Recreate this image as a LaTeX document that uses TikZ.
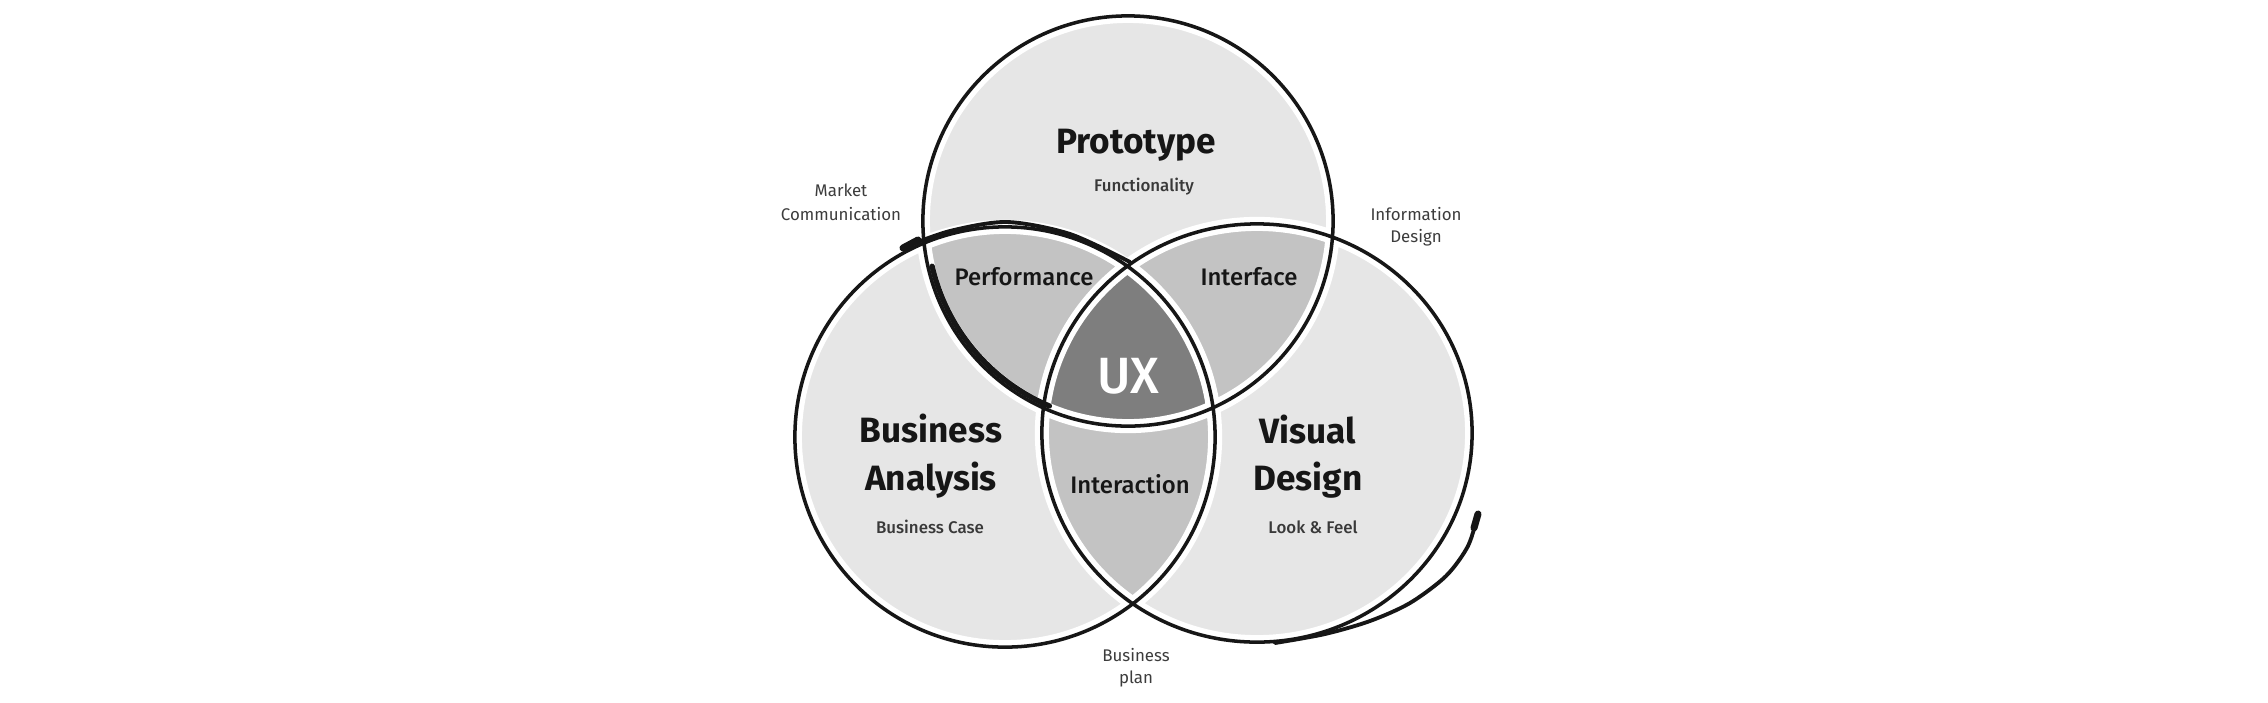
\documentclass[tikz,border=0pt]{standalone}
\usepackage{fontspec}
\setmainfont{Fira Sans}
\newfontfamily\medfont{Fira Sans Medium}
\definecolor{lite}{HTML}{E6E6E6}
\definecolor{midg}{HTML}{C3C3C3}
\definecolor{darkg}{HTML}{7E7E7E}
\definecolor{ink}{HTML}{161616}
\definecolor{soft}{HTML}{3C3C3C}
\def\Tpath{(1128,221) circle (2.05cm)}
\def\Lpath{(1005,437) circle (2.10cm)}
\def\Rpath{(1257,433) ellipse (2.15cm and 2.09cm)}
\begin{document}
\begin{tikzpicture}[x=0.01cm,y=-0.01cm,
  title/.style={anchor=base, inner sep=0pt, text=ink, font=\bfseries\fontsize{10}{12}\selectfont},
  sub/.style={anchor=base, inner sep=0pt, text=ink!85, font=\medfont\fontsize{4.8}{6}\selectfont},
  outer/.style={anchor=base, inner sep=0pt, text=soft, font=\fontsize{4.8}{6}\selectfont},
  lens/.style={anchor=base, inner sep=0pt, text=ink, font=\medfont\fontsize{6.8}{8}\selectfont},
  outline/.style={ink, line width=1pt},
  gap/.style={white, line width=4pt},
  sketch/.style={ink, line cap=round, line join=round}]
\useasboundingbox (0,0) rectangle (2268,702);
% fills
\fill[lite] \Tpath;
\fill[lite] \Lpath;
\fill[lite] \Rpath;
\begin{scope}
  \clip \Tpath;
  \fill[midg] \Lpath;
  \fill[midg] \Rpath;
\end{scope}
\begin{scope}
  \clip \Lpath;
  \fill[midg] \Rpath;
\end{scope}
\begin{scope}
  \clip \Tpath;
  \clip \Lpath;
  \fill[darkg] \Rpath;
\end{scope}
% white gaps and outlines
\draw[gap] \Tpath \Lpath \Rpath;
\draw[outline] \Tpath \Lpath \Rpath;
% sketchy extra strokes
\draw[sketch, line width=1.1pt] plot[smooth] coordinates {(905,247) (950,231) (1007,222) (1070,234) (1130,262)};
\draw[sketch, line width=2pt] (903,248) -- (918,240);
\draw[sketch, line width=1.5pt] plot[domain=193:247, samples=40] ({1128+201*cos(\x)},{221-201*sin(\x)});
\draw[sketch, line width=1.1pt] plot[smooth] coordinates {(1478,514) (1468,546) (1446,576) (1410,603) (1370,621) (1325,634) (1275,643)};
\draw[sketch, line width=2pt] (1478,514) -- (1474,528);
% texts
\node[title] (proto) at (1136,153) {Prototype};
\node[sub] (func) at (1144,191) {Functionality};
\node[outer] (mkt1) at (841,196) {Market};
\node[outer] (mkt2) at (841,220) {Communication};
\node[outer] (inf1) at (1416,220) {Information};
\node[outer] (inf2) at (1416,242) {Design};
\node[outer] (bp1) at (1136,661) {Business};
\node[outer] (bp2) at (1136,683) {plan};
\node[lens] (perf) at (1024,285) {Performance};
\node[lens] (intf) at (1249,285) {Interface};
\node[lens] (intr) at (1130,493) {Interaction};
\node[anchor=base, inner sep=0pt, text=white, font=\medfont\fontsize{14.5}{16}\selectfont] (ux) at (1128,393) {UX};
\node[title] (ba1) at (931,442) {Business};
\node[title] (ba2) at (931,490) {Analysis};
\node[sub] (bc) at (930,533) {Business Case};
\node[title] (vd1) at (1308,443) {Visual};
\node[title] (vd2) at (1308,490) {Design};
\node[sub] (lf) at (1313,533) {Look \& Feel};
\end{tikzpicture}
\end{document}
